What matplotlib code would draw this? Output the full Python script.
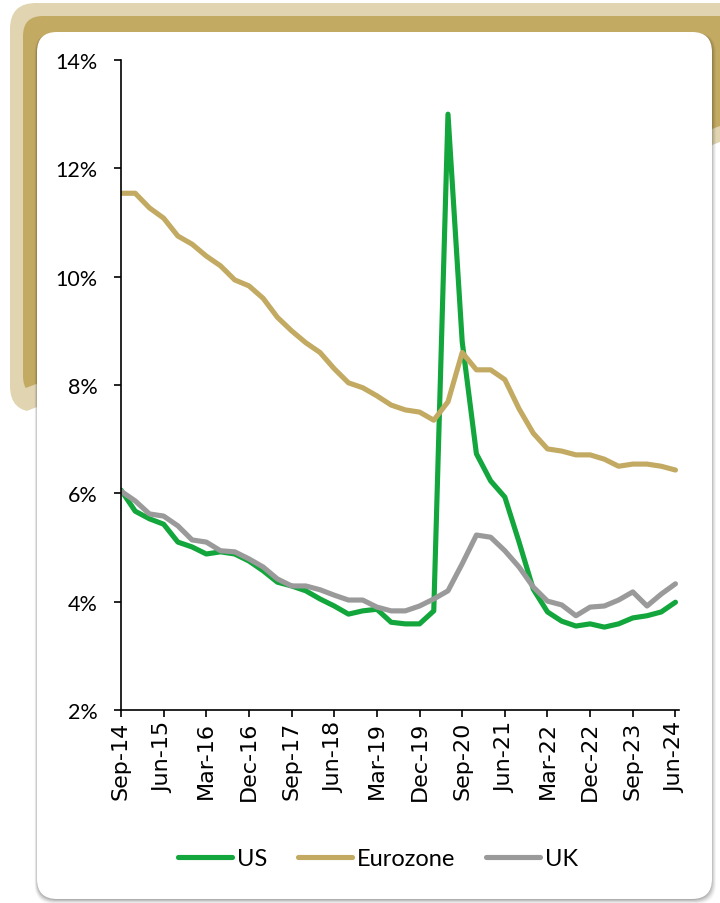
import matplotlib
matplotlib.use("Agg")
import matplotlib.pyplot as plt
from matplotlib.patches import FancyBboxPatch, Polygon
import numpy as np

# Quarterly unemployment rates (%), Sep-14 .. Jun-24
us = [6.06, 5.67, 5.53, 5.43, 5.10, 5.01, 4.88, 4.92, 4.88, 4.75,
      4.57, 4.36, 4.29, 4.20, 4.05, 3.92, 3.77, 3.83, 3.86, 3.62,
      3.59, 3.59, 3.83, 13.0, 8.80, 6.73, 6.23, 5.93, 5.10, 4.23,
      3.81, 3.64, 3.55, 3.59, 3.53, 3.59, 3.70, 3.74, 3.81, 3.99]
eurozone = [11.54, 11.54, 11.27, 11.08, 10.75, 10.60, 10.38, 10.20, 9.94, 9.83,
            9.60, 9.25, 9.00, 8.78, 8.60, 8.30, 8.04, 7.95, 7.80, 7.63,
            7.54, 7.50, 7.35, 7.69, 8.60, 8.28, 8.28, 8.10, 7.56, 7.11,
            6.82, 6.78, 6.71, 6.71, 6.63, 6.50, 6.54, 6.54, 6.50, 6.43]
uk = [6.04, 5.86, 5.62, 5.58, 5.40, 5.14, 5.10, 4.94, 4.92, 4.79,
      4.64, 4.42, 4.29, 4.29, 4.22, 4.12, 4.03, 4.03, 3.90, 3.83,
      3.83, 3.92, 4.05, 4.20, 4.70, 5.23, 5.19, 4.94, 4.64, 4.27,
      4.01, 3.94, 3.74, 3.90, 3.92, 4.03, 4.18, 3.92, 4.14, 4.33]
tick_labels = ["Sep-14", "Jun-15", "Mar-16", "Dec-16", "Sep-17", "Jun-18", "Mar-19",
               "Dec-19", "Sep-20", "Jun-21", "Mar-22", "Dec-22", "Sep-23", "Jun-24"]
y_ticks = [2, 4, 6, 8, 10, 12, 14]

GREEN = "#12a63c"
GOLD = "#c3aa62"
GREY = "#9a9a9a"
TAN = "#e0d4b1"

W, H = 720, 904
fig = plt.figure(figsize=(W / 100, H / 100), dpi=100)

# ---- decorative background in pixel coordinates ----
bg = fig.add_axes([0, 0, 1, 1])
bg.set_xlim(0, W)
bg.set_ylim(H, 0)
bg.axis("off")

# light tan back panel with a slanted lower edge
tan = FancyBboxPatch((10, 4), 780, 409, boxstyle="round,pad=0,rounding_size=26",
                     facecolor=TAN, edgecolor="none", zorder=1)
bg.add_patch(tan)
tan_clip = Polygon([(0, 0), (W, 0), (W, 143), (37, 408), (0, 422.4)],
                   closed=True, transform=bg.transData)
tan.set_clip_path(tan_clip)

# gold panel
gold = FancyBboxPatch((23, 17), 780, 380, boxstyle="round,pad=0,rounding_size=20",
                      facecolor=GOLD, edgecolor="none", zorder=2)
bg.add_patch(gold)
gold_clip = Polygon([(0, 0), (W, 0), (W, 127), (23, 390), (0, 398.7)],
                    closed=True, transform=bg.transData)
gold.set_clip_path(gold_clip)

# soft shadow of the white card
for i, a in enumerate([0.04, 0.05, 0.07, 0.09, 0.11]):
    spread = 4 - i
    bg.add_patch(FancyBboxPatch((37 - spread * 0.6, 33 + 1), 675 + spread * 1.6, 867 + spread * 1.0,
                                boxstyle="round,pad=0,rounding_size=20",
                                facecolor="black", edgecolor="none", alpha=a, zorder=3))

# white card
bg.add_patch(FancyBboxPatch((37, 33), 675, 867, boxstyle="round,pad=0,rounding_size=20",
                            facecolor="white", edgecolor="none", zorder=4))

# ---- chart ----
x0, x1 = 121, 679
y_top, y_bot = 61, 711
ax = fig.add_axes([x0 / W, 1 - y_bot / H, (x1 - x0) / W, (y_bot - y_top) / H])
ax.patch.set_alpha(0)

x = np.arange(len(us))
lw = 3.7
ax.plot(x, us, color=GREEN, lw=lw, solid_capstyle="round", solid_joinstyle="round", label="US")
ax.plot(x, eurozone, color=GOLD, lw=lw, solid_capstyle="round", solid_joinstyle="round", label="Eurozone")
ax.plot(x, uk, color=GREY, lw=lw, solid_capstyle="round", solid_joinstyle="round", label="UK")

ax.set_xlim(0, 39.25)
ax.set_ylim(2, 14)
ax.set_yticks(y_ticks)
ax.set_yticklabels([f"{v}%" for v in y_ticks], fontfamily="Lato", fontsize=15.5)
ax.set_xticks(np.arange(0, len(us), 3))
ax.set_xticklabels(tick_labels, rotation=90, fontfamily="DejaVu Sans", fontsize=16)

for s in ["top", "right"]:
    ax.spines[s].set_visible(False)
for s in ["left", "bottom"]:
    ax.spines[s].set_linewidth(1.2)
    ax.spines[s].set_color("black")
ax.tick_params(axis="y", length=5, width=1.2, pad=12, colors="black")
ax.tick_params(axis="x", length=5, width=1.2, pad=3, colors="black")

fig.legend(loc="center", bbox_to_anchor=(378 / W, 1 - 860 / H), ncol=3, frameon=False,
           prop={"family": "Lato", "size": 17}, handlelength=2.3, handletextpad=0.2,
           columnspacing=1.3)

fig.savefig("out.png", dpi=100)
